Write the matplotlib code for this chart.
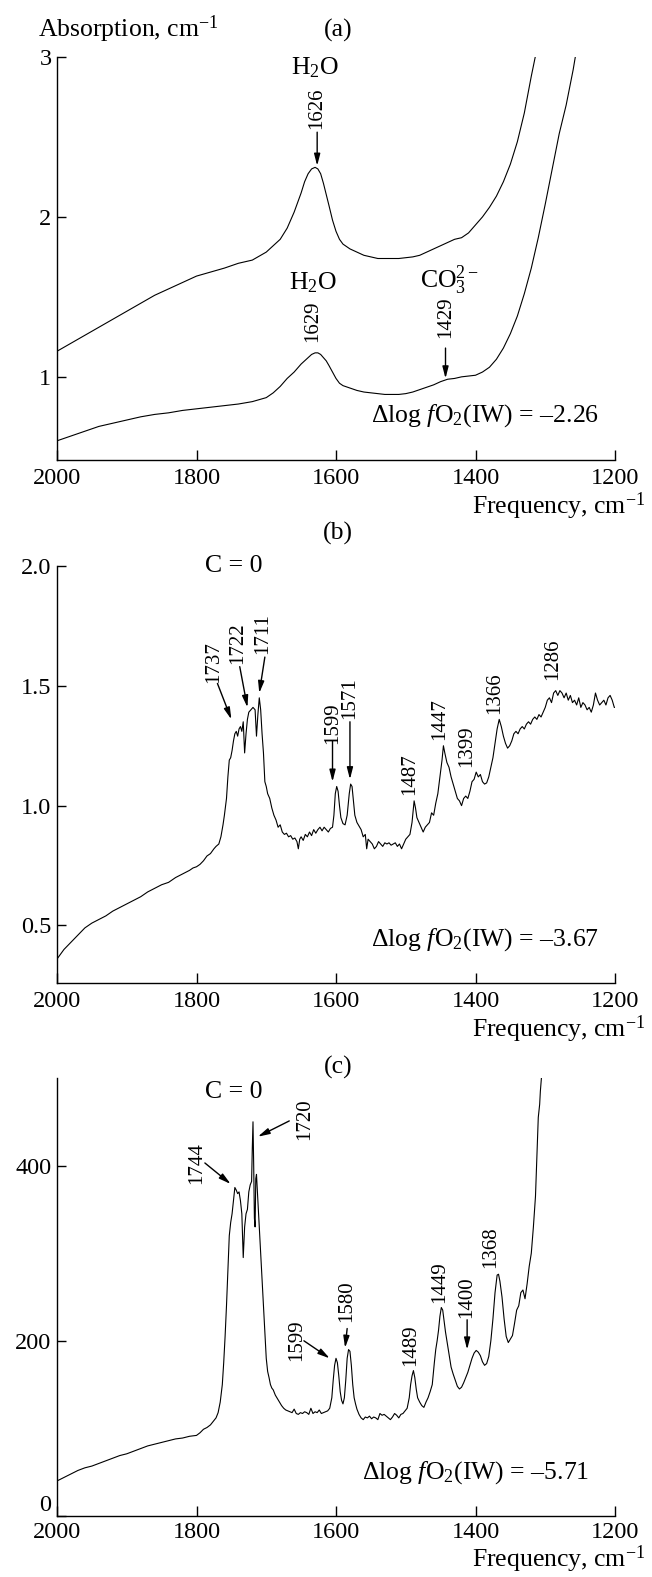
import matplotlib
matplotlib.use("Agg")
import matplotlib.pyplot as plt

# fonts - Times look
plt.rcParams["font.family"] = "Liberation Serif"
plt.rcParams["mathtext.fontset"] = "custom"
plt.rcParams["mathtext.rm"] = "Liberation Serif"
plt.rcParams["mathtext.it"] = "Liberation Serif:italic"

# ---- data (a) ----
a_top_freq = [2000, 1980, 1960, 1940, 1920, 1900, 1880, 1860, 1840, 1820,
              1800, 1780, 1760, 1740, 1720, 1700, 1690, 1680, 1670, 1660,
              1650, 1645, 1640, 1635, 1630, 1626, 1622, 1618, 1614, 1610,
              1605, 1600, 1595, 1590, 1580, 1570, 1560, 1550, 1540, 1530,
              1520, 1510, 1500, 1490, 1480, 1470, 1460, 1450, 1440, 1430,
              1420, 1410, 1400, 1390, 1380, 1370, 1360, 1350, 1340, 1330,
              1320, 1312]
a_top_abs = [1.16, 1.21, 1.26, 1.31, 1.36, 1.41, 1.46, 1.51, 1.55, 1.59,
             1.63, 1.655, 1.68, 1.71, 1.73, 1.78, 1.82, 1.86, 1.93, 2.03,
             2.15, 2.22, 2.27, 2.30, 2.31, 2.30, 2.27, 2.21, 2.14, 2.07,
             1.98, 1.91, 1.86, 1.83, 1.80, 1.78, 1.76, 1.75, 1.74, 1.74,
             1.74, 1.74, 1.745, 1.75, 1.76, 1.78, 1.80, 1.82, 1.84, 1.86,
             1.87, 1.90, 1.95, 2.00, 2.06, 2.13, 2.22, 2.33, 2.47, 2.65,
             2.88, 3.05]

a_bot_freq = [2000, 1980, 1960, 1940, 1920, 1900, 1880, 1860, 1840, 1820,
              1800, 1780, 1760, 1740, 1720, 1700, 1690, 1680, 1670, 1660,
              1650, 1645, 1640, 1635, 1630, 1626, 1622, 1618, 1614, 1610,
              1605, 1600, 1595, 1590, 1580, 1570, 1560, 1550, 1540, 1530,
              1520, 1510, 1500, 1490, 1480, 1470, 1460, 1450, 1440, 1430,
              1420, 1410, 1400, 1390, 1380, 1370, 1360, 1350, 1340, 1330,
              1320, 1310, 1300, 1290, 1280, 1270, 1260, 1255]
a_bot_abs = [0.60, 0.63, 0.66, 0.69, 0.71, 0.73, 0.75, 0.765, 0.775, 0.79,
             0.80, 0.81, 0.82, 0.83, 0.845, 0.87, 0.90, 0.94, 0.99, 1.03,
             1.08, 1.10, 1.12, 1.14, 1.15, 1.15, 1.14, 1.12, 1.10, 1.07,
             1.03, 0.99, 0.96, 0.945, 0.93, 0.915, 0.905, 0.90, 0.895, 0.89,
             0.89, 0.89, 0.895, 0.905, 0.92, 0.935, 0.95, 0.97, 0.985, 0.99,
             1.00, 1.005, 1.01, 1.03, 1.06, 1.11, 1.18, 1.27, 1.38, 1.52,
             1.68, 1.87, 2.08, 2.30, 2.52, 2.70, 2.92, 3.05]

# ---- data (b) ----
b_freq = [2000, 1990, 1980, 1970, 1960, 1950, 1940, 1930, 1920, 1910,
          1900, 1890, 1880, 1870, 1860, 1850, 1840, 1830, 1820, 1810,
          1805, 1800, 1795, 1790, 1785, 1780, 1775, 1772, 1768, 1765,
          1762, 1760, 1757, 1755, 1753, 1751, 1749, 1747, 1745, 1743,
          1741, 1739, 1737, 1735, 1733, 1731, 1729, 1727, 1725, 1722,
          1719, 1716, 1714, 1712, 1710, 1708, 1706, 1704, 1702, 1700,
          1698, 1695, 1692, 1689, 1686, 1683, 1680, 1677, 1674, 1671,
          1668, 1665, 1662, 1659, 1656, 1654, 1652, 1650, 1647, 1644,
          1641, 1638, 1635, 1632, 1629, 1626, 1623, 1620, 1617, 1614,
          1611, 1608, 1605, 1603, 1601, 1599, 1597, 1595, 1593, 1590,
          1587, 1584, 1581, 1579, 1577, 1575, 1573, 1570, 1567, 1564,
          1561, 1558, 1556, 1554, 1551, 1548, 1545, 1542, 1539, 1536,
          1533, 1530, 1527, 1524, 1521, 1518, 1515, 1512, 1509, 1506,
          1503, 1500, 1497, 1494, 1491, 1488, 1486, 1484, 1481, 1478,
          1475, 1472, 1469, 1466, 1463, 1460, 1457, 1454, 1451, 1448,
          1446, 1444, 1441, 1438, 1435, 1432, 1429, 1426, 1423, 1420,
          1417, 1414, 1411, 1408, 1405, 1402, 1399, 1396, 1393, 1390,
          1387, 1384, 1381, 1378, 1375, 1372, 1369, 1366, 1363, 1360,
          1357, 1354, 1351, 1348, 1345, 1342, 1339, 1336, 1333, 1330,
          1327, 1324, 1321, 1318, 1315, 1312, 1309, 1306, 1303, 1300,
          1297, 1294, 1291, 1288, 1285, 1282, 1279, 1276, 1273, 1270,
          1267, 1264, 1261, 1258, 1255, 1252, 1249, 1246, 1243, 1240,
          1237, 1234, 1231, 1228, 1225, 1222, 1219, 1216, 1213, 1210,
          1207, 1204, 1201, 1200]
b_abs = [0.36, 0.40, 0.43, 0.46, 0.49, 0.51, 0.525, 0.54, 0.56, 0.575,
         0.59, 0.605, 0.62, 0.64, 0.655, 0.67, 0.68, 0.70, 0.715, 0.73,
         0.74, 0.745, 0.755, 0.77, 0.79, 0.80, 0.82, 0.83, 0.84, 0.87,
         0.92, 0.96, 1.03, 1.12, 1.19, 1.20, 1.23, 1.27, 1.30, 1.31,
         1.29, 1.32, 1.33, 1.31, 1.35, 1.22, 1.30, 1.36, 1.39, 1.40,
         1.41, 1.40, 1.29, 1.38, 1.45, 1.40, 1.30, 1.22, 1.10, 1.08,
         1.05, 1.03, 0.99, 0.96, 0.94, 0.91, 0.92, 0.89, 0.88, 0.885,
         0.87, 0.875, 0.86, 0.865, 0.85, 0.82, 0.86, 0.87, 0.855, 0.88,
         0.87, 0.89, 0.875, 0.90, 0.885, 0.90, 0.91, 0.895, 0.91, 0.90,
         0.89, 0.905, 0.91, 0.96, 1.05, 1.08, 1.06, 1.00, 0.95, 0.925,
         0.92, 0.96, 1.05, 1.09, 1.08, 1.02, 0.96, 0.93, 0.915, 0.90,
         0.87, 0.88, 0.82, 0.86, 0.85, 0.84, 0.82, 0.83, 0.85, 0.84,
         0.83, 0.845, 0.84, 0.845, 0.835, 0.84, 0.845, 0.83, 0.84, 0.82,
         0.84, 0.86, 0.87, 0.88, 0.93, 1.02, 0.99, 0.95, 0.93, 0.91,
         0.89, 0.91, 0.92, 0.93, 0.97, 0.96, 1.01, 1.05, 1.12, 1.19,
         1.25, 1.22, 1.18, 1.16, 1.12, 1.09, 1.06, 1.03, 1.02, 1.00,
         1.03, 1.04, 1.03, 1.06, 1.10, 1.11, 1.14, 1.12, 1.13, 1.10,
         1.09, 1.095, 1.12, 1.16, 1.20, 1.26, 1.32, 1.36, 1.33, 1.29,
         1.26, 1.24, 1.25, 1.27, 1.30, 1.31, 1.30, 1.32, 1.33, 1.32,
         1.34, 1.35, 1.34, 1.36, 1.37, 1.36, 1.38, 1.37, 1.39, 1.41,
         1.44, 1.45, 1.43, 1.47, 1.48, 1.46, 1.48, 1.47, 1.45, 1.47,
         1.44, 1.46, 1.43, 1.44, 1.42, 1.45, 1.41, 1.43, 1.42, 1.40,
         1.41, 1.39, 1.42, 1.47, 1.44, 1.42, 1.43, 1.44, 1.42, 1.45,
         1.46, 1.44, 1.41, 1.41]

# ---- data (c) ----
c_freq = [2000, 1990, 1980, 1970, 1960, 1950, 1940, 1930, 1920, 1910,
          1900, 1890, 1880, 1870, 1860, 1850, 1840, 1830, 1820, 1810,
          1800, 1795, 1790, 1785, 1780, 1776, 1772, 1769, 1766, 1763,
          1761, 1759, 1757, 1755, 1753, 1751, 1749, 1747, 1745, 1743,
          1741, 1739, 1737, 1735, 1733, 1731, 1729, 1727, 1725, 1723,
          1721, 1720, 1719, 1718, 1717, 1716, 1715, 1714, 1712, 1710,
          1708, 1706, 1704, 1702, 1700, 1698, 1696, 1694, 1692, 1690,
          1687, 1684, 1681, 1678, 1675, 1672, 1669, 1666, 1663, 1660,
          1657, 1654, 1651, 1648, 1645, 1642, 1639, 1636, 1633, 1630,
          1627, 1624, 1621, 1618, 1615, 1612, 1609, 1606, 1604, 1602,
          1600, 1598, 1596, 1594, 1592, 1590, 1588, 1586, 1584, 1582,
          1580, 1578, 1576, 1574, 1572, 1570, 1567, 1564, 1561, 1558,
          1555, 1552, 1549, 1546, 1543, 1540, 1537, 1534, 1531, 1528,
          1525, 1522, 1519, 1516, 1513, 1510, 1507, 1504, 1501, 1498,
          1495, 1493, 1491, 1489, 1487, 1485, 1483, 1480, 1477, 1474,
          1471, 1468, 1465, 1462, 1459, 1457, 1455, 1453, 1451, 1449,
          1447, 1445, 1443, 1441, 1438, 1435, 1432, 1429, 1426, 1423,
          1420, 1417, 1414, 1411, 1408, 1405, 1402, 1399, 1396, 1393,
          1390, 1387, 1384, 1381, 1378, 1375, 1372, 1369, 1367, 1365,
          1362, 1359, 1356, 1353, 1350, 1347, 1344, 1341, 1338, 1335,
          1332, 1329, 1326, 1323, 1320, 1317, 1314, 1312, 1310, 1308,
          1307, 1306, 1305]
c_abs = [40, 44, 48, 52, 55, 57, 60, 63, 66, 69,
         71, 74, 77, 80, 82, 84, 86, 88, 89, 91,
         92, 95, 99, 101, 104, 108, 112, 118, 130, 150,
         175, 205, 240, 280, 320, 335, 345, 360, 375, 372,
         368, 370, 360, 345, 295, 330, 345, 350, 370, 378,
         382, 420, 450, 400, 340, 330, 385, 390, 360, 330,
         300, 270, 240, 210, 180, 165, 158, 150, 146, 144,
         138, 134, 130, 126, 123, 121, 120, 119, 118, 122,
         117, 116, 118, 117, 119, 118, 116, 123, 117, 119,
         118, 121, 117, 118, 119, 120, 123, 135, 155, 172,
         180, 175, 160, 142, 132, 128, 135, 155, 180, 190,
         188, 172, 150, 135, 128, 122, 116, 112, 110, 113,
         112, 114, 111, 113, 112, 110, 117, 115, 116, 114,
         112, 110, 113, 117, 115, 112, 116, 117, 120, 123,
         135, 150, 160, 166, 158, 145, 135, 130, 126, 124,
         130, 135, 142, 150, 175, 190, 200, 212, 228, 238,
         235, 222, 210, 200, 185, 170, 162, 155, 148, 145,
         147, 152, 158, 164, 172, 180, 186, 189, 187, 183,
         176, 172, 174, 182, 200, 225, 255, 275, 276, 268,
         250, 225, 205, 198, 202, 206, 220, 235, 240, 255,
         258, 248, 265, 285, 300, 330, 365, 410, 455, 470,
         485, 495, 505]

x_ticks = [2000, 1800, 1600, 1400, 1200]
FS = 17.5    # tick labels
FL = 18.5    # other labels

W, H = 652, 1577
fig = plt.figure(figsize=(W / 100, H / 100), dpi=100)


def make_axes(top_px, bottom_px, freq_drop, xpad=6):
    left, right = 57, 615
    ax = fig.add_axes([left / W, 1 - bottom_px / H, (right - left) / W,
                       (bottom_px - top_px) / H])
    ax.spines["top"].set_visible(False)
    ax.spines["right"].set_visible(False)
    for s in ["left", "bottom"]:
        ax.spines[s].set_linewidth(1.0)
    ax.set_xlim(2000, 1200)
    ax.set_xticks(x_ticks)
    ax.tick_params(axis="x", direction="in", length=7, width=1.0,
                   labelsize=FS, pad=xpad)
    ax.tick_params(axis="y", direction="in", length=6.5, width=1.0,
                   labelsize=FS, pad=4)
    ax.annotate("Frequency, cm$^{-1}$", xy=(1, 0), xycoords="axes fraction",
                xytext=(22, -freq_drop), textcoords="offset points",
                ha="right", va="center", fontsize=FL)
    return ax


arrow = dict(arrowstyle="-|>,head_length=0.7,head_width=0.18", color="k",
             lw=1.0, shrinkA=0, shrinkB=0)


def rot(ax, x, y, s):
    ax.text(x, y, s, rotation=90, ha="center", va="center", fontsize=15)


def arr(ax, x0, y0, x1, y1):
    ax.annotate("", xy=(x1, y1), xytext=(x0, y0), arrowprops=arrow)


# (a)
ax = make_axes(57, 460, 33)
ax.plot(a_top_freq, a_top_abs, color="k", lw=0.8)
ax.plot(a_bot_freq, a_bot_abs, color="k", lw=0.8)
ax.set_ylim(0.48, 3.0)
ax.set_yticks([1, 2, 3])
ax.text(1630, 2.93, "H$_2$O", ha="center", va="center", fontsize=FL)
rot(ax, 1627, 2.68, "1626")
arr(ax, 1627, 2.53, 1627, 2.32)
ax.text(1633, 1.59, "H$_2$O", ha="center", va="center", fontsize=FL)
rot(ax, 1633, 1.35, "1629")
ax.text(1437, 1.60, "CO$_3^{2-}$", ha="center", va="center", fontsize=FL)
rot(ax, 1443, 1.37, "1429")
arr(ax, 1443, 1.18, 1443, 0.99)
ax.text(1387, 0.76, "Δlog $f$O$_2$(IW) = –2.26", ha="center", va="center",
        fontsize=FL)
fig.text(38 / W, 1 - 37 / H, "Absorption, cm$^{-1}$", ha="left",
         va="baseline", fontsize=FL)
fig.text(338 / W, 1 - 37 / H, "(a)", ha="center", va="baseline", fontsize=FL)

# (b)
ax = make_axes(566, 983, 33)
ax.plot(b_freq, b_abs, color="k", lw=0.8)
ax.set_ylim(0.26, 2.0)
ax.set_yticks([0.5, 1.0, 1.5, 2.0])
ax.set_yticklabels(["0.5", "1.0", "1.5", "2.0"])
ax.text(1746, 2.0, "C = 0", ha="center", va="center", fontsize=FL)
rot(ax, 1776, 1.60, "1737")
arr(ax, 1770, 1.51, 1750, 1.36)
rot(ax, 1741, 1.68, "1722")
arr(ax, 1738, 1.58, 1727, 1.41)
rot(ax, 1705, 1.72, "1711")
arr(ax, 1702, 1.62, 1710, 1.47)
rot(ax, 1605, 1.345, "1599")
arr(ax, 1605, 1.27, 1605, 1.10)
rot(ax, 1580, 1.45, "1571")
arr(ax, 1580, 1.35, 1580, 1.11)
rot(ax, 1495, 1.13, "1487")
rot(ax, 1452, 1.36, "1447")
rot(ax, 1413, 1.25, "1399")
rot(ax, 1372, 1.47, "1366")
rot(ax, 1290, 1.61, "1286")
ax.text(1387, 0.44, "Δlog $f$O$_2$(IW) = –3.67", ha="center", va="center",
        fontsize=FL)
fig.text(338 / W, 1 - 540 / H, "(b)", ha="center", va="baseline", fontsize=FL)

# (c)
ax = make_axes(1078, 1516, 31, xpad=4)
ax.plot(c_freq, c_abs, color="k", lw=0.8)
ax.set_ylim(0, 500)
ax.set_yticks([0, 200, 400])
# the 0 label sits just above the x axis, as in the original
ax.get_yticklabels()[0].set_verticalalignment("bottom")
ax.text(1746, 484, "C = 0", ha="center", va="center", fontsize=FL)
rot(ax, 1645, 453, "1720")
arr(ax, 1667, 451, 1712, 433)
rot(ax, 1800, 403, "1744")
arr(ax, 1788, 403, 1751, 379)
rot(ax, 1656, 201, "1599")
arr(ax, 1646, 200, 1609, 180)
rot(ax, 1584, 245, "1580")
arr(ax, 1584, 214, 1587, 192)
rot(ax, 1493, 195, "1489")
rot(ax, 1452, 267, "1449")
rot(ax, 1412, 250, "1400")
arr(ax, 1412, 224, 1412, 190)
rot(ax, 1378, 307, "1368")
ax.text(1400, 50, "Δlog $f$O$_2$(IW) = –5.71", ha="center", va="center",
        fontsize=FL)
fig.text(338 / W, 1 - 1074 / H, "(c)", ha="center", va="baseline",
         fontsize=FL)

fig.savefig("out.png", dpi=100)
